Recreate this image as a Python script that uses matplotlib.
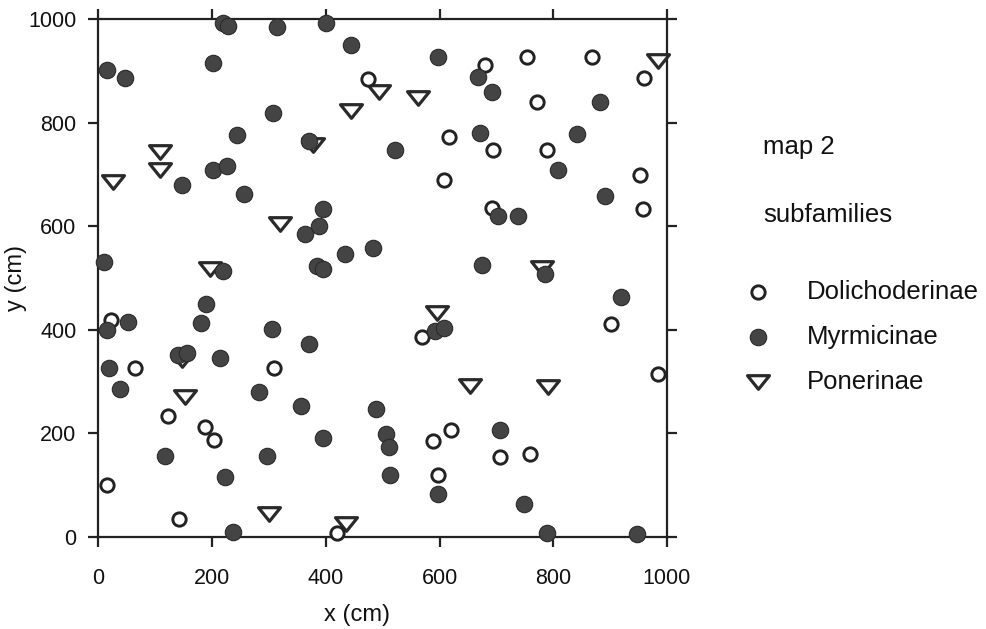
import matplotlib
matplotlib.use("Agg")
import matplotlib.pyplot as plt
import numpy as np
from matplotlib.path import Path

plt.rcParams['font.family'] = ['Liberation Sans', 'DejaVu Sans']

# Dolichoderinae (open circles)
dol_x = [474, 680, 754, 868, 960, 771, 616, 694, 789, 608, 953, 692, 958, 22, 64, 309,
         901, 569, 984, 122, 187, 203, 589, 620, 706, 759, 597, 15, 141, 419]
dol_y = [884, 911, 926, 926, 886, 839, 772, 747, 747, 689, 698, 636, 634, 418, 327, 327,
         412, 387, 315, 234, 213, 188, 186, 207, 155, 161, 120, 101, 35, 8]

# Myrmicinae (filled circles)
myr_x = [219, 228, 314, 400, 15, 47, 201, 444, 597, 667, 693, 882, 307, 244, 522, 671,
         842, 370, 201, 226, 147, 256, 808, 891, 395, 387, 363, 483, 434, 703, 738, 10,
         219, 384, 395, 675, 785, 919, 15, 52, 189, 180, 140, 155, 214, 305, 370, 592,
         608, 19, 38, 282, 356, 488, 395, 506, 511, 706, 117, 296, 222, 513, 597, 749,
         237, 789, 947]
myr_y = [992, 986, 985, 992, 901, 886, 915, 950, 926, 888, 859, 839, 818, 776, 747, 779,
         778, 764, 708, 716, 679, 662, 708, 658, 633, 600, 584, 557, 547, 619, 619, 530,
         514, 524, 518, 526, 508, 464, 400, 416, 449, 414, 352, 355, 346, 402, 373, 397,
         404, 327, 286, 280, 253, 248, 192, 199, 174, 207, 157, 157, 116, 120, 83, 64,
         10, 8, 6]

# Ponerinae (open down-triangles)
pon_x = [984, 494, 562, 444, 108, 108, 26, 377, 320, 196, 780, 595, 653, 791, 152,
         300, 435, 147]
pon_y = [919, 859, 847, 822, 743, 708, 685, 756, 604, 518, 520, 433, 292, 290, 271,
         44, 25, 342]

ticks = [0, 200, 400, 600, 800, 1000]
labels = ["Dolichoderinae", "Myrmicinae", "Ponerinae"]

W, H = 987, 629
fig = plt.figure(figsize=(W / 100, H / 100), dpi=100)
ax = fig.add_axes([98.5 / W, 1 - 537 / H, (667 - 98.5) / W, (537 - 19) / H])

tri = Path([(-1, 0.62), (1, 0.62), (0, -0.62), (-1, 0.62)],
           [Path.MOVETO, Path.LINETO, Path.LINETO, Path.CLOSEPOLY])

hp = ax.scatter(pon_x, pon_y, s=250, marker=tri, facecolors='white',
                edgecolors='#2a2a2a', linewidths=2.3, clip_on=False, zorder=3,
                label=labels[2])
hd = ax.scatter(dol_x, dol_y, s=92, marker='o', facecolors='white',
                edgecolors='#222222', linewidths=2.1, clip_on=False, zorder=4,
                label=labels[0])
hm = ax.scatter(myr_x, myr_y, s=140, marker='o', facecolors='#444444',
                edgecolors='#2a2a2a', linewidths=0.8, clip_on=False, zorder=5,
                label=labels[1])

ax.set_xlim(0, 1000)
ax.set_ylim(0, 1000)
ax.set_xticks(ticks)
ax.set_yticks(ticks)
for s in ax.spines.values():
    s.set_linewidth(1.6)
    s.set_color('#222222')
ax.tick_params(axis='both', which='both', direction='out', length=7, width=1.6,
               colors='#222222', labelsize=15.5, top=True, right=True,
               labeltop=False, labelright=False)
ax.tick_params(axis='x', pad=15)
ax.tick_params(axis='y', pad=9)
for t in ax.get_xticklabels() + ax.get_yticklabels():
    t.set_color('#111111')

ax.set_xlabel('x (cm)', fontsize=17, color='#111111')
ax.xaxis.set_label_coords(0.455, -0.13)
ax.set_ylabel('y (cm)', fontsize=17, color='#111111')
ax.yaxis.set_label_coords(-0.125, 0.5)

fig.text(763 / W, 1 - 147 / H, 'map 2', fontsize=18.5, va='center', ha='left',
         color='#111111')
fig.text(763 / W, 1 - 215 / H, 'subfamilies', fontsize=18.5, va='center',
         ha='left', color='#111111')

leg = ax.legend(handles=[hd, hm, hp], labels=labels, loc='upper left',
                bbox_to_anchor=(745 / W, 1 - 280 / H),
                bbox_transform=fig.transFigure, frameon=False, fontsize=18.5,
                borderpad=0, borderaxespad=0, handletextpad=1.4,
                handlelength=1.0, labelspacing=0.82, markerscale=1.0)
for t in leg.get_texts():
    t.set_color('#111111')

fig.savefig('out.png', dpi=100)
